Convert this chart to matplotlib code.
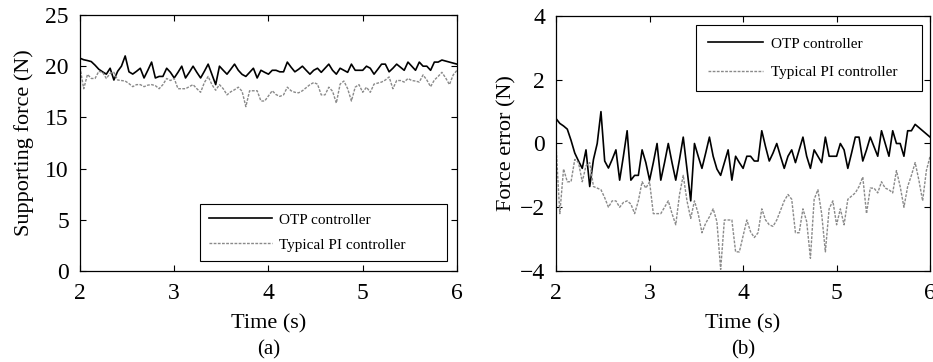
import numpy as np
import matplotlib
matplotlib.use("Agg")
import matplotlib.pyplot as plt

# ---------------- data ----------------
t_start, t_end, n_pts = 2.0, 6.0, 101
time = np.linspace(t_start, t_end, n_pts)

otp_force = [20.78, 20.63, 20.55, 20.45, 20.10, 19.70, 19.45, 19.22, 19.80, 18.65,
             19.5, 20.0, 21.0, 19.45, 19.23, 19.5, 19.8, 18.85, 19.6, 20.4,
             18.85, 19.0, 19.0, 19.8, 19.4, 18.85, 19.4, 20.0, 18.85, 19.4,
             20.0, 19.4, 18.85, 19.5, 20.2, 19.2, 18.2, 20.0, 19.6, 19.22,
             19.7, 20.2, 19.6, 19.2, 19.0, 19.4, 19.8, 18.85, 19.6, 19.4,
             19.22, 19.6, 19.6, 19.45, 19.45, 20.4, 19.9, 19.45, 19.7, 20.0,
             19.6, 19.22, 19.6, 19.8, 19.4, 19.8, 20.2, 19.6, 19.22, 19.8,
             19.6, 19.4, 20.2, 19.6, 19.6, 19.6, 20.0, 19.8, 19.22, 19.7,
             20.2, 20.2, 19.45, 19.8, 20.2, 19.9, 19.6, 20.4, 20.0, 19.6,
             20.4, 20.0, 20.0, 19.6, 20.4, 20.4, 20.6, 20.5, 20.4, 20.3, 20.2]

pi_force = [19.9, 17.8, 19.2, 18.8, 18.8, 19.5, 19.4, 18.8, 19.3, 19.4,
            18.65, 18.6, 18.55, 18.3, 18.0, 18.2, 18.2, 18.0, 18.15, 18.2,
            18.1, 17.8, 18.2, 18.8, 18.6, 18.8, 17.8, 17.8, 17.8, 18.0,
            18.2, 17.8, 17.45, 18.4, 19.0, 18.2, 17.65, 18.2, 17.8, 17.2,
            17.5, 17.7, 17.95, 17.55, 16.05, 17.6, 17.6, 17.6, 16.6, 16.6,
            17.1, 17.6, 17.23, 17.05, 17.2, 17.95, 17.6, 17.45, 17.4, 17.6,
            17.9, 18.2, 18.4, 18.25, 17.2, 17.2, 17.95, 17.55, 16.4, 18.25,
            18.55, 17.8, 16.6, 17.95, 18.2, 17.45, 17.95, 17.45, 18.25, 18.35,
            18.45, 18.65, 18.95, 17.8, 18.6, 18.6, 18.45, 18.8, 18.6, 18.55,
            18.45, 19.15, 18.65, 18.0, 18.65, 19.0, 19.4, 18.85, 18.2, 19.15, 19.6]

otp_error = [0.78, 0.63, 0.55, 0.45, 0.10, -0.30, -0.55, -0.78, -0.20, -1.35,
             -0.5, 0.0, 1.0, -0.55, -0.77, -0.5, -0.2, -1.15, -0.4, 0.4,
             -1.15, -1.0, -1.0, -0.2, -0.6, -1.15, -0.6, 0.0, -1.15, -0.6,
             0.0, -0.6, -1.15, -0.5, 0.2, -0.8, -1.8, 0.0, -0.4, -0.78,
             -0.3, 0.2, -0.4, -0.8, -1.0, -0.6, -0.2, -1.15, -0.4, -0.6,
             -0.78, -0.4, -0.4, -0.55, -0.55, 0.4, -0.1, -0.55, -0.3, 0.0,
             -0.4, -0.78, -0.4, -0.2, -0.6, -0.2, 0.2, -0.4, -0.78, -0.2,
             -0.4, -0.6, 0.2, -0.4, -0.4, -0.4, 0.0, -0.2, -0.78, -0.3,
             0.2, 0.2, -0.55, -0.2, 0.2, -0.1, -0.4, 0.4, 0.0, -0.4,
             0.4, 0.0, 0.0, -0.4, 0.4, 0.4, 0.6, 0.5, 0.4, 0.3, 0.2]

pi_error = [-0.1, -2.2, -0.8, -1.2, -1.2, -0.5, -0.6, -1.2, -0.7, -0.6,
            -1.35, -1.4, -1.45, -1.7, -2.0, -1.8, -1.8, -2.0, -1.85, -1.8,
            -1.9, -2.2, -1.8, -1.2, -1.4, -1.2, -2.2, -2.2, -2.2, -2.0,
            -1.8, -2.2, -2.55, -1.6, -1.0, -1.8, -2.35, -1.8, -2.2, -2.8,
            -2.5, -2.3, -2.05, -2.45, -3.95, -2.4, -2.4, -2.4, -3.4, -3.4,
            -2.9, -2.4, -2.77, -2.95, -2.8, -2.05, -2.4, -2.55, -2.6, -2.4,
            -2.1, -1.8, -1.6, -1.75, -2.8, -2.8, -2.05, -2.45, -3.6, -1.75,
            -1.45, -2.2, -3.4, -2.05, -1.8, -2.55, -2.05, -2.55, -1.75, -1.65,
            -1.55, -1.35, -1.05, -2.2, -1.4, -1.4, -1.55, -1.2, -1.4, -1.45,
            -1.55, -0.85, -1.35, -2.0, -1.35, -1.0, -0.6, -1.15, -1.8, -0.85, -0.4]

labels = ["OTP controller", "Typical PI controller"]
x_ticks = [2, 3, 4, 5, 6]
force_ticks = [0, 5, 10, 15, 20, 25]
error_ticks = [-4, -2, 0, 2, 4]

# ---------------- style ----------------
plt.rcParams['font.family'] = ['Liberation Serif', 'DejaVu Serif']

fig = plt.figure(figsize=(9.33, 3.62), dpi=100)
ax1 = fig.add_axes([0.0857, 0.2514, 0.4041, 0.7072])
ax2 = fig.add_axes([0.5960, 0.2514, 0.4009, 0.7044])

pi_style = dict(color='#8a8a8a', lw=1.0, linestyle=(0, (2.0, 1.0)))
otp_style = dict(color='black', lw=1.2)

def style_axes(ax):
    ax.set_xlim(t_start, t_end)
    ax.set_xticks(x_ticks)
    ax.tick_params(direction='in', length=4, width=0.8, top=True, right=True,
                   labelsize=17)
    ax.tick_params(axis='x', pad=9)
    ax.tick_params(axis='y', pad=8)
    for s in ax.spines.values():
        s.set_linewidth(0.9)
    ax.set_xlabel("Time (s)", fontsize=16, labelpad=7)

ax1.plot(time, otp_force, label=labels[0], **otp_style)
ax1.plot(time, pi_force, label=labels[1], **pi_style)
ax1.set_ylim(0, 25)
ax1.set_yticks(force_ticks)
style_axes(ax1)
ax1.set_ylabel("Supporting force (N)", fontsize=16, labelpad=8)
leg1 = ax1.legend(loc='lower left', bbox_to_anchor=(0.318, 0.039, 0.655, 0.234),
                  mode='expand', fontsize=11, frameon=True, fancybox=False,
                  edgecolor='black', framealpha=1, handlelength=4.1,
                  handletextpad=0.45, borderpad=0.6, labelspacing=0.75,
                  borderaxespad=0.0)
leg1.get_frame().set_linewidth(0.8)

ax2.plot(time, otp_error, label=labels[0], **otp_style)
ax2.plot(time, pi_error, label=labels[1], **pi_style)
ax2.set_ylim(-4, 4)
ax2.set_yticks(error_ticks)
style_axes(ax2)
ax2.set_ylabel("Force error (N)", fontsize=16, labelpad=2)
leg2 = ax2.legend(loc='upper left', bbox_to_anchor=(0.374, 0.965, 0.605, 0.0),
                  mode='expand', fontsize=11, frameon=True, fancybox=False,
                  edgecolor='black', framealpha=1, handlelength=3.6,
                  handletextpad=0.5, borderpad=0.8, labelspacing=0.95,
                  borderaxespad=0.0)
leg2.get_frame().set_linewidth(0.8)

fig.text(0.2878, 0.008, "(a)", ha='center', va='bottom', fontsize=15)
fig.text(0.7965, 0.008, "(b)", ha='center', va='bottom', fontsize=15)

fig.savefig("out.png", dpi=100)
